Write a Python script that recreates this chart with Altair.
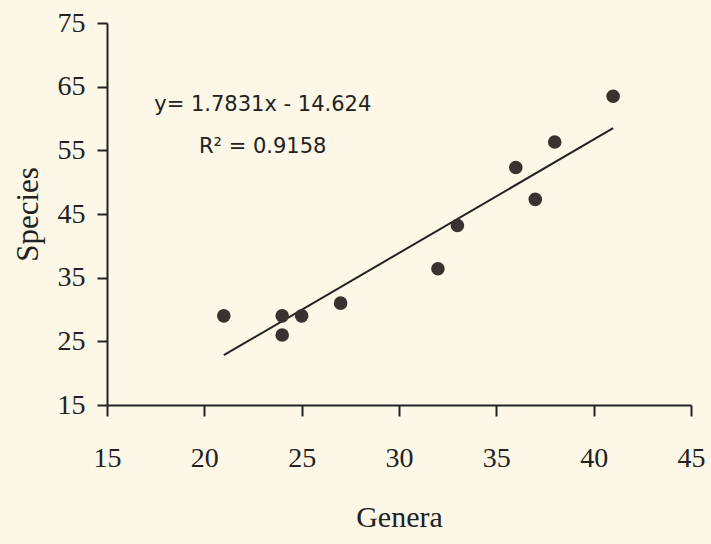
import altair as alt
import pandas as pd

# Data
genera = [21, 24, 24, 25, 27, 32, 33, 36, 37, 38, 41]
species = [29, 29, 26, 29, 31, 36.4, 43.2, 52.3, 47.3, 56.3, 63.5]

# Fitted line (from the printed equation)
slope = 1.7831
intercept = -14.624
fit_x = [21, 41]

x_ticks = [15, 20, 25, 30, 35, 40, 45]
y_ticks = [15, 25, 35, 45, 55, 65, 75]

eq_text = ["y= 1.7831x - 14.624", "R² = 0.9158"]
eq_x = [23.0, 23.0]
eq_y = [61.1, 54.65]

BG = "#FCF7E6"
INK = "#3A322E"

pts = pd.DataFrame({"Genera": genera, "Species": species})
fit = pd.DataFrame({"Genera": fit_x})
eq = pd.DataFrame({"t": eq_text, "x": eq_x, "y": eq_y})

xscale = alt.Scale(domain=[15, 45], nice=False, zero=False)
yscale = alt.Scale(domain=[15, 75], nice=False, zero=False)

xaxis = alt.Axis(values=x_ticks, title="Genera", grid=False,
                 labelFont="Liberation Serif", labelFontSize=28, labelColor="#222",
                 labelPadding=28, labelFlush=False, labelOverlap=False,
                 tickSize=11, tickWidth=2, tickColor="#222",
                 domainColor="#222", domainWidth=2,
                 titleFont="Liberation Serif", titleFontSize=30, titleFontWeight="normal",
                 titleColor="#222", titlePadding=30)
yaxis = alt.Axis(values=y_ticks, title="Species", grid=False,
                 labelFont="Liberation Serif", labelFontSize=28, labelColor="#222",
                 labelPadding=12, labelFlush=False, labelOverlap=False,
                 tickSize=10, tickWidth=2, tickColor="#222",
                 domainColor="#222", domainWidth=2,
                 titleFont="Liberation Serif", titleFontSize=31, titleFontWeight="normal",
                 titleColor="#222", titlePadding=13)

points = alt.Chart(pts).mark_circle(size=185, color=INK, opacity=1).encode(
    x=alt.X("Genera:Q", scale=xscale, axis=xaxis),
    y=alt.Y("Species:Q", scale=yscale, axis=yaxis),
)

line = alt.Chart(fit).transform_calculate(
    Species=f"{slope} * datum.Genera + ({intercept})"
).mark_line(color="#222", strokeWidth=2).encode(
    x=alt.X("Genera:Q", scale=xscale),
    y=alt.Y("Species:Q", scale=yscale),
)

label = alt.Chart(eq).mark_text(
    font="DejaVu Sans", fontSize=21, color="#222", align="center", baseline="alphabetic"
).encode(
    x=alt.X("x:Q", scale=xscale),
    y=alt.Y("y:Q", scale=yscale),
    text="t:N",
)

chart = alt.layer(line, points, label).properties(
    width=584, height=382,
    background=BG,
    padding={"left": 107, "top": 23, "right": 20, "bottom": 139},
    autosize=alt.AutoSizeParams(type="none"),
).configure_view(stroke=None, fill=BG)

chart.save("out.html", embed_options={"renderer": "svg", "actions": False})
